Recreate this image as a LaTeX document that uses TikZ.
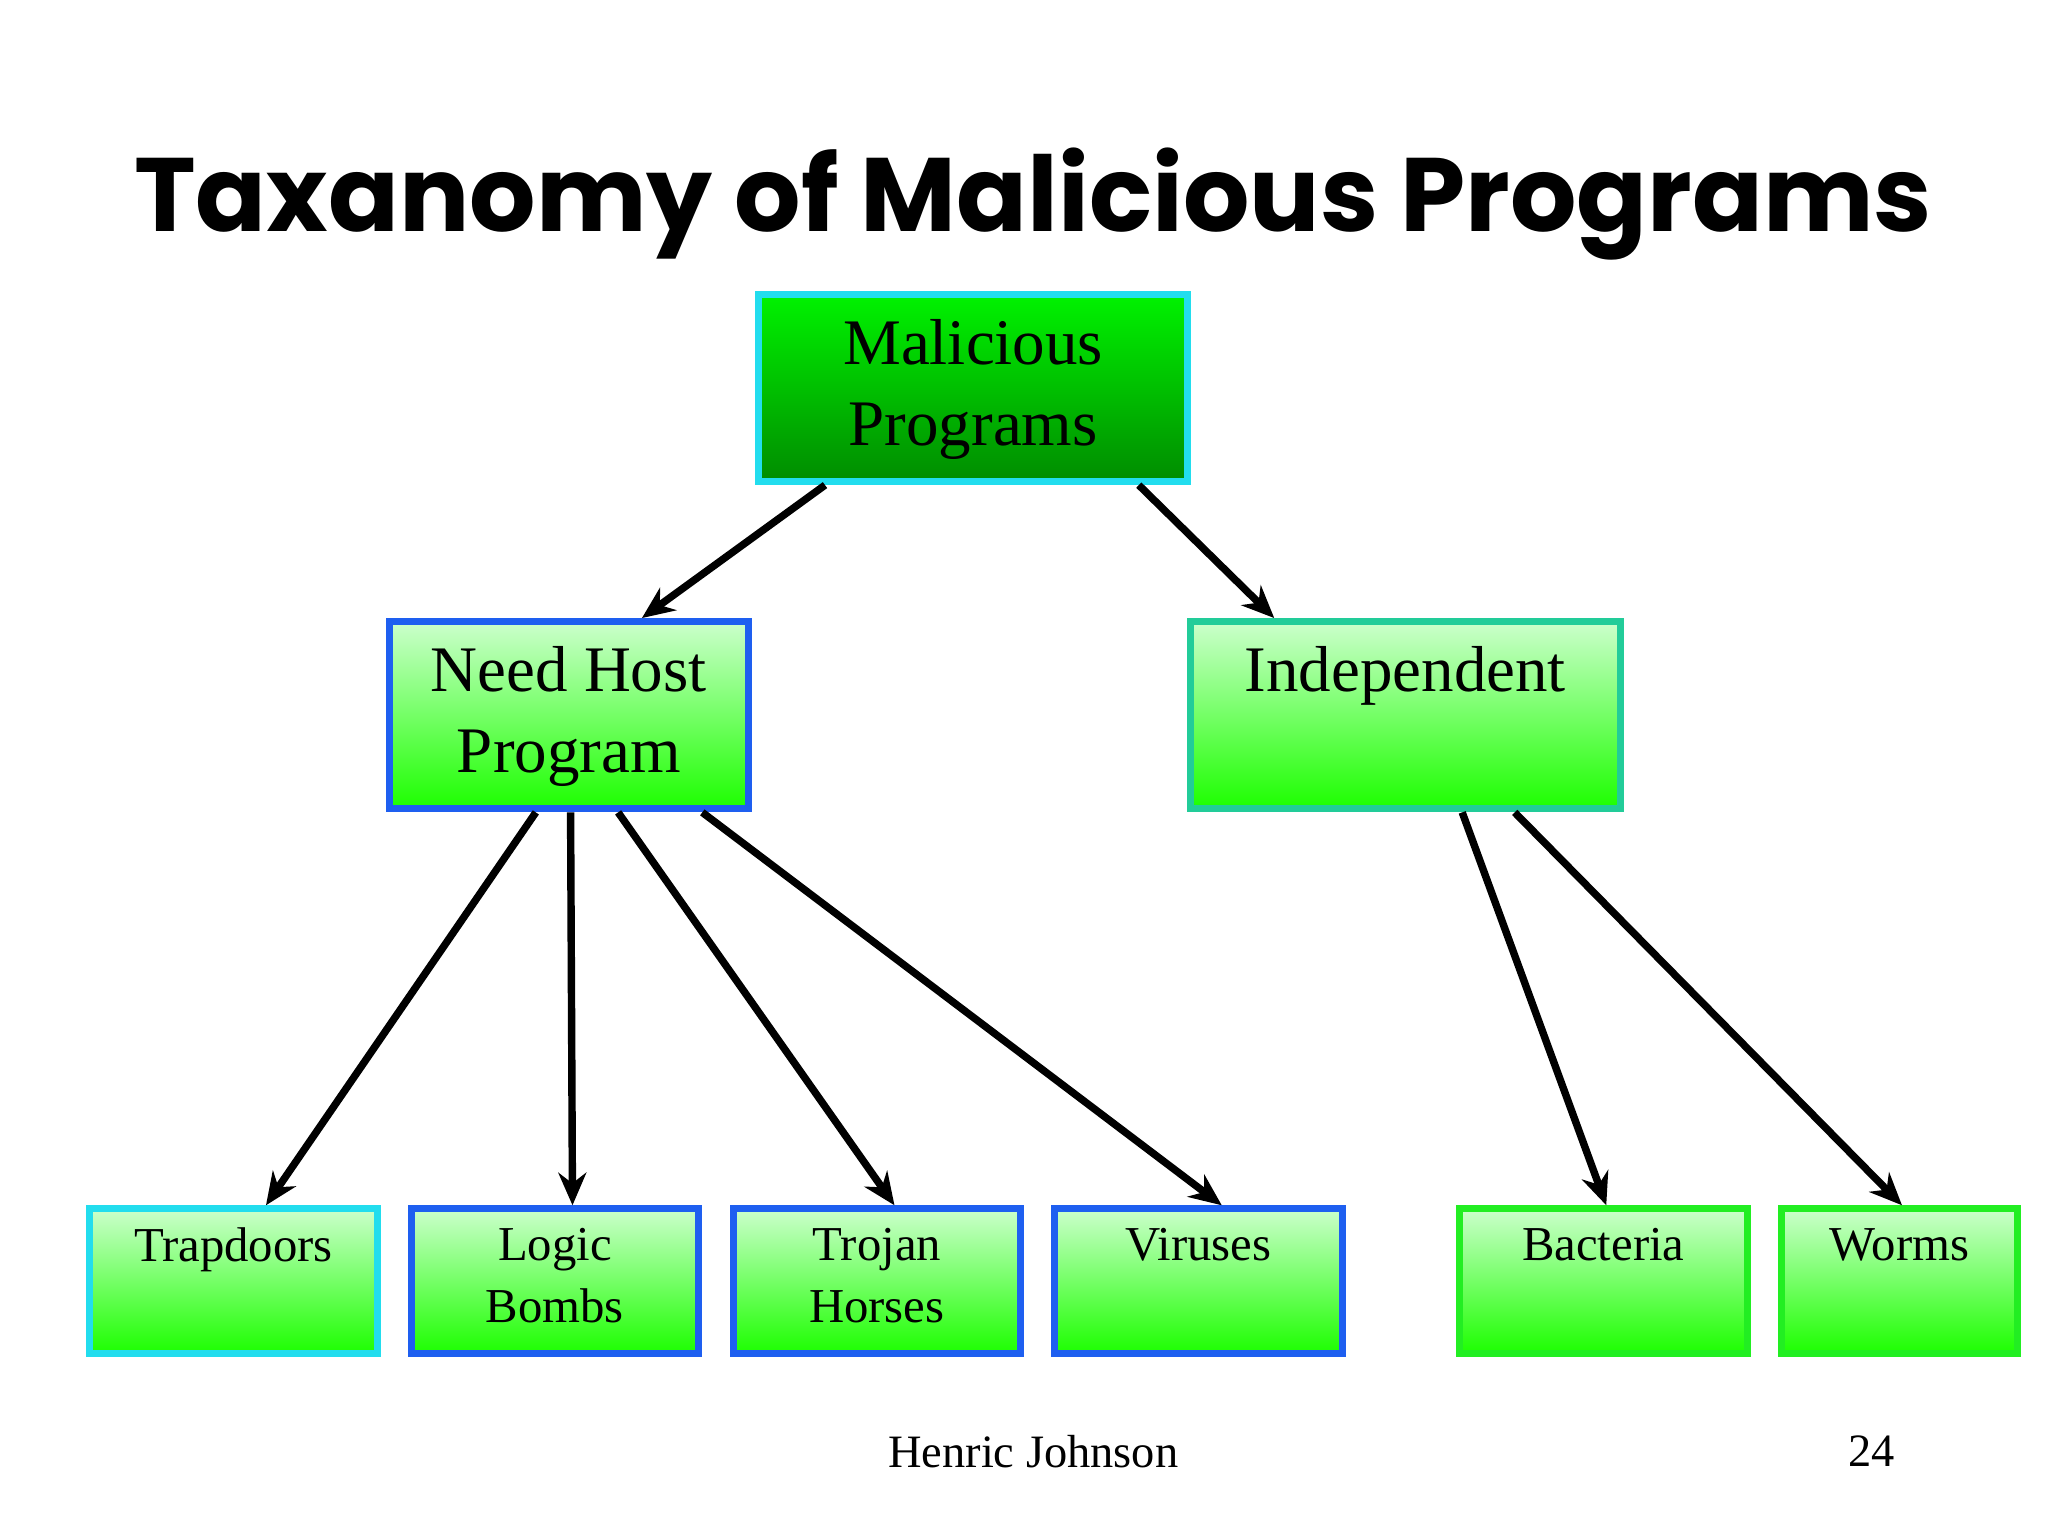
\documentclass[tikz,border=0pt]{standalone}
\usepackage{fontspec}
\setmainfont{Liberation Serif}
\newfontfamily\titlefont{Poppins}
\usetikzlibrary{calc,arrows.meta}
\definecolor{bcyan}{HTML}{22DDEE}
\definecolor{bblue}{HTML}{1E5FF0}
\definecolor{bteal}{HTML}{22CC99}
\definecolor{bgreen}{HTML}{22EE22}
\tikzset{
 box/.style={draw=#1,line width=1.5pt,top color=green!20!white,bottom color=green!85!lime,inner sep=0pt,align=center},
 topbox/.style={draw=bcyan,line width=1.5pt,top color=green!95!black,bottom color=green!55!black,inner sep=0pt,align=center},
 lbl/.style={anchor=north,align=center,inner sep=0pt},
 big/.style={font=\fontsize{14}{17.5}\selectfont},
 small/.style={font=\fontsize{10.5}{13.3}\selectfont},
 arr/.style={line width=1.6pt,-{Stealth[length=7pt,width=6pt]}}
}
\newcommand{\mybox}[9]{\node[#6,minimum width={(#4-#2)*0.01cm},minimum height={(#5-#3)*0.01cm}] (#1) at ({(#2+#4)/2},{(#3+#5)/2}) {};\node[lbl,#8] at ({(#2+#4)/2},#3+#7) {#9};}
\begin{document}
\begin{tikzpicture}[x=0.01cm,y=-0.01cm]
\useasboundingbox (0,0) rectangle (1552,1164);
\node[font=\titlefont\bfseries\fontsize{22.5}{26}\selectfont] (title) at (783,155) {Taxanomy of Malicious Programs};
\mybox{mal}{575}{223}{900}{365}{topbox}{18}{big}{Malicious\\Programs}
\mybox{need}{295}{471}{567}{613}{box=bblue}{18}{big}{Need Host\\Program}
\mybox{ind}{902}{471}{1228}{613}{box=bteal}{18}{big}{Independent}
\mybox{trap}{68}{916}{286}{1026}{box=bcyan}{14}{small}{Trapdoors}
\mybox{logic}{312}{916}{529}{1026}{box=bblue}{14}{small}{Logic\\Bombs}
\mybox{troj}{556}{916}{773}{1026}{box=bblue}{14}{small}{Trojan\\Horses}
\mybox{vir}{799}{916}{1017}{1026}{box=bblue}{14}{small}{Viruses}
\mybox{bac}{1106}{916}{1324}{1026}{box=bgreen}{14}{small}{Bacteria}
\mybox{worm}{1350}{916}{1529}{1026}{box=bgreen}{14}{small}{Worms}
\draw[arr] ($(mal.south west)!0.16!(mal.south east)$) -- ($(need.north west)!0.70!(need.north east)$);
\draw[arr] ($(mal.south west)!0.88!(mal.south east)$) -- ($(ind.north west)!0.20!(ind.north east)$);
\draw[arr] ($(need.south west)!0.41!(need.south east)$) -- ($(trap.north west)!0.61!(trap.north east)$);
\draw[arr] ($(need.south west)!0.505!(need.south east)$) -- ($(logic.north west)!0.56!(logic.north east)$);
\draw[arr] ($(need.south west)!0.635!(need.south east)$) -- ($(troj.north west)!0.56!(troj.north east)$);
\draw[arr] ($(need.south west)!0.865!(need.south east)$) -- ($(vir.north west)!0.58!(vir.north east)$);
\draw[arr] ($(ind.south west)!0.63!(ind.south east)$) -- ($(bac.north west)!0.51!(bac.north east)$);
\draw[arr] ($(ind.south west)!0.75!(ind.south east)$) -- ($(worm.north west)!0.51!(worm.north east)$);
\node[font=\fontsize{10}{12}\selectfont] (author) at (783,1100) {Henric Johnson};
\node[font=\fontsize{10}{12}\selectfont] (page) at (1418,1100) {24};
\end{tikzpicture}
\end{document}
